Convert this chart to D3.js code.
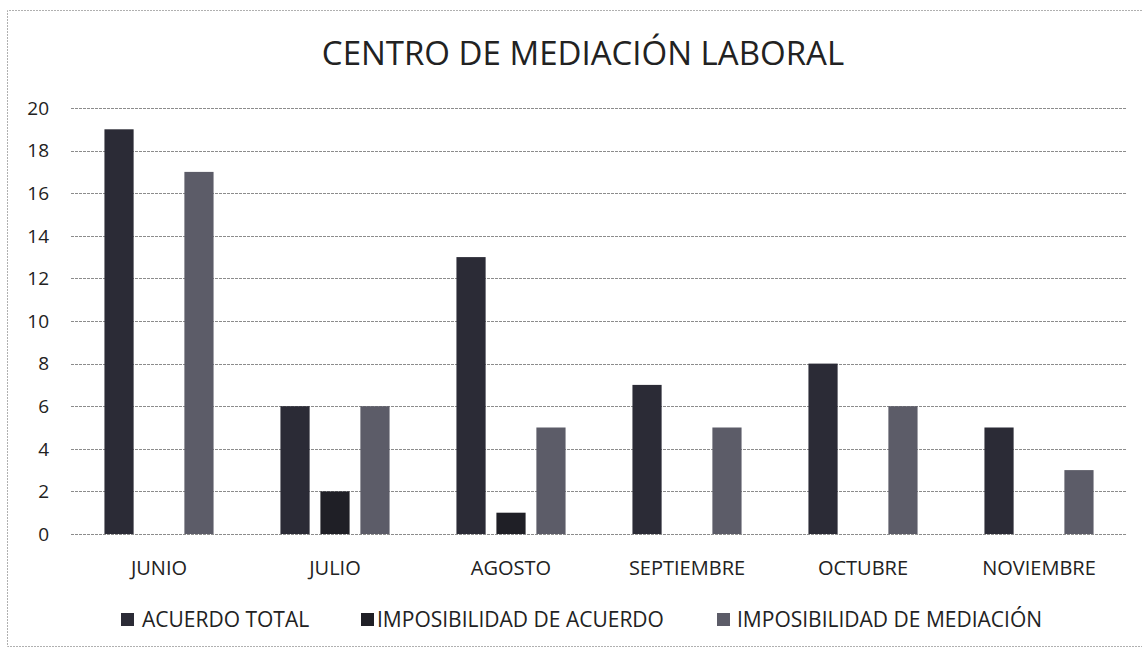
<!DOCTYPE html>
<html>
<head>
<meta charset="utf-8">
<script src="https://cdn.jsdelivr.net/npm/d3@7"></script>
<style>
  body { margin: 0; background: #fff; }
  text { font-family: "Open Sans", "Liberation Sans", sans-serif; fill: #222; }
</style>
</head>
<body>
<div id="chart"></div>
<script>
// data
var months = ["JUNIO", "JULIO", "AGOSTO", "SEPTIEMBRE", "OCTUBRE", "NOVIEMBRE"];
var seriesNames = ["ACUERDO TOTAL", "IMPOSIBILIDAD DE ACUERDO", "IMPOSIBILIDAD DE MEDIACIÓN"];
var acuerdoTotal = [19, 6, 13, 7, 8, 5];
var imposibilidadAcuerdo = [0, 2, 1, 0, 0, 0];
var imposibilidadMediacion = [17, 6, 5, 5, 6, 3];
var yTicks = [0, 2, 4, 6, 8, 10, 12, 14, 16, 18, 20];
var colors = ["#2b2b36", "#1f1f26", "#5c5c68"];

var seriesValues = [acuerdoTotal, imposibilidadAcuerdo, imposibilidadMediacion];

var width = 1142, height = 651;
var plot = {left: 71, right: 1127, top: 108, bottom: 534};

var svg = d3.select("#chart").append("svg")
  .attr("width", width)
  .attr("height", height);

// outer frame (right edge is cut off in the scan)
svg.append("path")
  .attr("d", "M1142,10.5H7.5V646.5H1142")
  .attr("fill", "none")
  .attr("stroke", "#b0b0b0")
  .attr("stroke-dasharray", "2,1");

svg.append("text")
  .attr("x", 583).attr("y", 65)
  .attr("text-anchor", "middle")
  .style("font-size", "33px")
  .text("CENTRO DE MEDIACIÓN LABORAL");

var x = d3.scaleBand()
  .domain(months)
  .range([plot.left, plot.right]);

var y = d3.scaleLinear()
  .domain([0, 20])
  .range([plot.bottom, plot.top]);

var bw = x.bandwidth();
var xs = d3.scaleBand()
  .domain(d3.range(seriesNames.length))
  .range([bw * 0.19, bw * 0.81])
  .paddingInner(0.27);

// gridlines
svg.append("g").selectAll("line")
  .data(yTicks)
  .enter().append("line")
  .attr("x1", plot.left).attr("x2", plot.right)
  .attr("y1", function(d) { return Math.round(y(d)) + 0.5; })
  .attr("y2", function(d) { return Math.round(y(d)) + 0.5; })
  .attr("stroke", "#8c8c8c")
  .attr("stroke-width", 1.2)
  .attr("stroke-dasharray", "3,1");

// y labels
svg.append("g").selectAll("text")
  .data(yTicks)
  .enter().append("text")
  .attr("x", 49)
  .attr("y", function(d) { return y(d); })
  .attr("dy", "0.36em")
  .attr("text-anchor", "end")
  .style("font-size", "19px")
  .text(function(d) { return d; });

// bars
var groups = svg.append("g").selectAll("g")
  .data(months)
  .enter().append("g")
  .attr("transform", function(d) { return "translate(" + x(d) + ",0)"; });

groups.selectAll("rect")
  .data(function(d, i) {
    return seriesValues.map(function(vals, s) { return {s: s, v: vals[i]}; });
  })
  .enter().append("rect")
  .filter(function(d) { return d.v > 0; })
  .attr("x", function(d) { return xs(d.s); })
  .attr("width", xs.bandwidth())
  .attr("y", function(d) { return y(d.v); })
  .attr("height", function(d) { return y(0) - y(d.v); })
  .attr("fill", function(d) { return colors[d.s]; });

// category labels
svg.append("g").selectAll("text")
  .data(months)
  .enter().append("text")
  .attr("x", function(d) { return x(d) + bw / 2; })
  .attr("y", 575)
  .attr("text-anchor", "middle")
  .style("font-size", "20px")
  .text(function(d) { return d; });

// legend
var legendBox = [121, 361, 717];
var legendText = [142, 377, 737];
var leg = svg.append("g");

leg.selectAll("rect")
  .data(seriesNames)
  .enter().append("rect")
  .attr("x", function(d, i) { return legendBox[i]; })
  .attr("y", 613)
  .attr("width", 13).attr("height", 13)
  .attr("fill", function(d, i) { return colors[i]; });

leg.selectAll("text")
  .data(seriesNames)
  .enter().append("text")
  .attr("x", function(d, i) { return legendText[i]; })
  .attr("y", 627)
  .style("font-size", "21px")
  .text(function(d) { return d; });
</script>
</body>
</html>
